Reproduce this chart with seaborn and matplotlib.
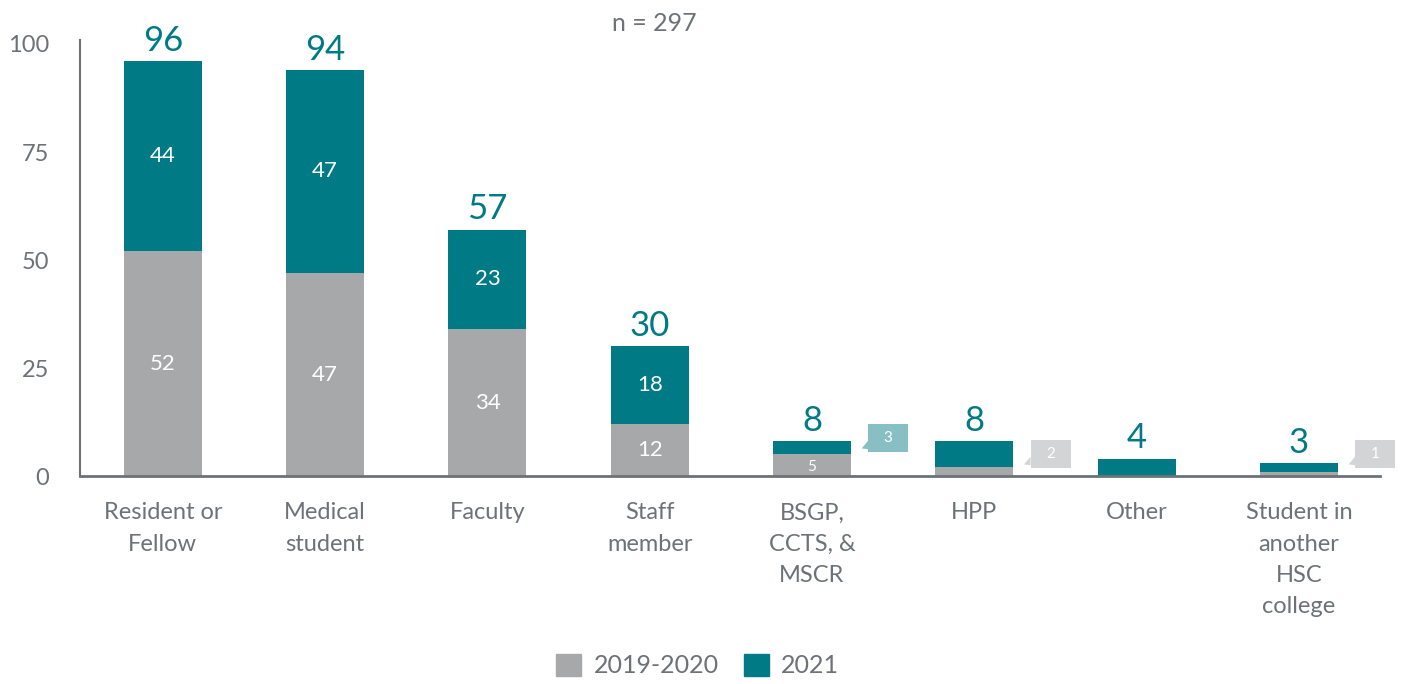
import numpy as np
import pandas as pd
import matplotlib
matplotlib.use("Agg")
import matplotlib.pyplot as plt
import seaborn as sns
from matplotlib.patches import Rectangle, Polygon

categories = ["Resident or\nFellow", "Medical\nstudent", "Faculty", "Staff\nmember",
              "BSGP,\nCCTS, &\nMSCR", "HPP", "Other", "Student in\nanother\nHSC\ncollege"]
vals_2019 = [52, 47, 34, 12, 5, 2, 0, 1]
vals_2021 = [44, 47, 23, 18, 3, 6, 4, 2]
totals = [a + b for a, b in zip(vals_2019, vals_2021)]

GRAY = "#a7a8aa"
TEAL = "#007a85"
TXT = "#6d7278"

sns.set_theme(style="white")
plt.rcParams["font.family"] = ["Lato", "DejaVu Sans"]

df = pd.DataFrame({"cat": categories, "y2019": vals_2019, "y2021": vals_2021, "total": totals})

fig = plt.figure(figsize=(14.04, 6.84), dpi=100)
ax = fig.add_axes([0.057, 0.304, 0.926, 0.638])

# totals in teal, 2019-2020 overlay in gray at the bottom
sns.barplot(data=df, x="cat", y="total", color=TEAL, width=0.48, saturation=1,
            linewidth=0, ax=ax)
sns.barplot(data=df, x="cat", y="y2019", color=GRAY, width=0.48, saturation=1,
            linewidth=0, ax=ax)

ax.set_xlim(-0.51, 7.5)
ax.set_ylim(0, 101)
ax.set_yticks([0, 25, 50, 75, 100])
ax.set_xlabel("")
ax.set_ylabel("")
ax.tick_params(axis="both", length=0, colors=TXT, labelsize=17)
ax.tick_params(axis="x", pad=19)
ax.tick_params(axis="y", pad=22)
for sp in ["top", "right"]:
    ax.spines[sp].set_visible(False)
ax.spines["left"].set_color(TXT)
ax.spines["left"].set_linewidth(1.5)
ax.spines["bottom"].set_color(TXT)
ax.spines["bottom"].set_linewidth(2)
plt.setp(ax.get_xticklabels(), linespacing=1.6, va="top")

# labels
for i, (a, b, t) in enumerate(zip(vals_2019, vals_2021, totals)):
    ax.text(i, t + 1.0, str(t), ha="center", va="bottom", color=TEAL, fontsize=25)
    if a >= 10:
        ax.text(i, a / 2, str(a), ha="center", va="center", color="white", fontsize=16)
    if b >= 10:
        ax.text(i, a + b / 2, str(b), ha="center", va="center", color="white", fontsize=16)
ax.text(4, vals_2019[4] / 2 - 0.3, str(vals_2019[4]), ha="center", va="center",
        color="white", fontsize=11)

# callouts for small segments
callouts = [(4, 8.8, str(vals_2021[4]), "#88bfc4"),
            (5, 5.1, str(vals_2019[5]), "#d3d4d5"),
            (7, 5.1, str(vals_2019[7]), "#d3d4d5")]
bw, bh = 0.247, 6.5
for i, y, s, c in callouts:
    x0 = i + 0.346
    ax.add_patch(Rectangle((x0, y - bh / 2), bw, bh, fc=c, ec="none", clip_on=False))
    ax.add_patch(Polygon([(x0, y - 0.6), (x0 - 0.04, y - 2.4), (x0, y - 2.6)],
                         closed=True, fc=c, ec="none", clip_on=False))
    ax.text(x0 + bw / 2, y, s, ha="center", va="center", color="white", fontsize=11)

fig.text(0.466, 0.965, "n = 297", ha="center", va="center", color=TXT, fontsize=18)

handles = [plt.Rectangle((0, 0), 1, 1, color=GRAY), plt.Rectangle((0, 0), 1, 1, color=TEAL)]
leg = fig.legend(handles, ["2019-2020", "2021"], loc="center", bbox_to_anchor=(0.497, 0.027),
                 ncol=2, frameon=False, fontsize=18, handlelength=1.0, handleheight=1.0,
                 columnspacing=1.0, handletextpad=0.5)
for t in leg.get_texts():
    t.set_color(TXT)

fig.savefig("out.png", dpi=100)
